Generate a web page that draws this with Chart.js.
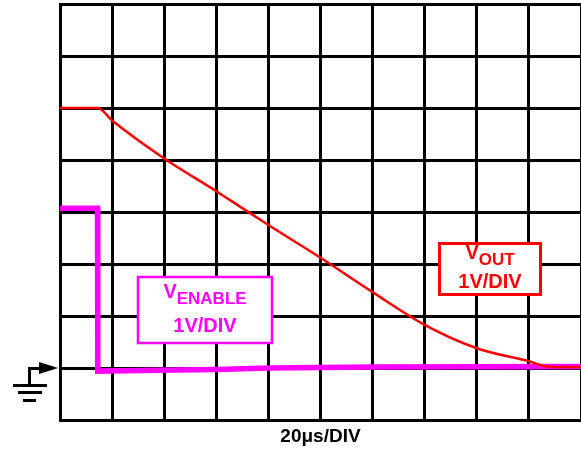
<!DOCTYPE html>
<html>
<head>
<meta charset="utf-8">
<script src="https://cdn.jsdelivr.net/npm/chart.js@4"></script>
<style>
  html, body { margin: 0; padding: 0; background: #fff; }
  #grafico { display: block; }
</style>
</head>
<body>
<canvas id="grafico" width="581" height="452"></canvas>
<script>
// tiempo en us (20us por division), tension en V (1V por division)
var tiempoVout = [0, 14.5, 20, 40, 60, 80, 100, 120, 140, 160, 180, 188, 200];
var vout       = [5.0, 5.0, 4.76, 4.03, 3.40, 2.75, 2.12, 1.46, 0.83, 0.38, 0.13, 0.02, 0.02];

var tiempoEnable = [0, 14.4, 14.5, 30, 60, 80, 120, 200];
var venable      = [3.07, 3.07, -0.06, -0.05, -0.03, 0.0, 0.02, 0.03];

var etiquetaX = '20\u03bcs/DIV';

/**
 * Arma los puntos {x, y} para una serie
 */
var armarPuntos = function(xs, ys){
    const puntos = [];
    xs.forEach((x, i) => {
        puntos.push({ x: x, y: ys[i] });
    });
    return puntos;
}

/**
 * Dibuja una caja con el nombre de la señal (V + subindice) y la escala
 */
var dibujarCaja = function(ctx, caja){
    ctx.save();
    ctx.fillStyle = '#fff';
    ctx.fillRect(caja.x, caja.y, caja.w, caja.h);
    ctx.strokeStyle = caja.color;
    ctx.lineWidth = caja.borde;
    ctx.strokeRect(caja.x, caja.y, caja.w, caja.h);

    ctx.fillStyle = caja.color;
    ctx.textBaseline = 'alphabetic';
    const fV = 'bold 20px "Liberation Sans", Arial, sans-serif';
    const fSub = 'bold 17px "Liberation Sans", Arial, sans-serif';
    ctx.font = fV;
    const anchoV = ctx.measureText('V').width;
    ctx.font = fSub;
    const anchoSub = ctx.measureText(caja.sub).width;
    const cx = caja.x + caja.w / 2;
    let x0 = cx - (anchoV + anchoSub) / 2;
    ctx.font = fV;
    ctx.textAlign = 'left';
    ctx.fillText('V', x0, caja.y1);
    ctx.font = fSub;
    ctx.fillText(caja.sub, x0 + anchoV, caja.y1 + 6);

    ctx.font = fV;
    ctx.textAlign = 'center';
    ctx.fillText('1V/DIV', cx, caja.y2);
    ctx.restore();
}

const anotaciones = {
    id: 'anotaciones',
    afterDatasetsDraw(chart){
        const ctx = chart.ctx;
        dibujarCaja(ctx, { x: 138, y: 277, w: 134, h: 66, color: '#ff00ff', borde: 2.5,
                           sub: 'ENABLE', y1: 298, y2: 332 });
        dibujarCaja(ctx, { x: 439.5, y: 243.5, w: 101, h: 51, color: '#ff0000', borde: 3,
                           sub: 'OUT', y1: 259, y2: 288 });
    },
    afterDraw(chart){
        // simbolo de tierra junto al nivel 0
        const ctx = chart.ctx;
        const y0 = Math.round(chart.scales.y.getPixelForValue(0));
        ctx.save();
        ctx.fillStyle = '#000';
        ctx.beginPath();
        ctx.moveTo(58, y0);
        ctx.lineTo(39, y0 - 6);
        ctx.lineTo(39, y0 + 6);
        ctx.closePath();
        ctx.fill();
        ctx.fillRect(28, y0 - 1, 12, 3);
        ctx.fillRect(28, y0 - 1, 3, 19);
        ctx.fillRect(13, y0 + 16, 34, 3);
        ctx.fillRect(18, y0 + 23, 24, 3);
        ctx.fillRect(23, y0 + 31, 13, 3);
        ctx.restore();
    }
};

const ctx = document.getElementById('grafico');

new Chart(ctx, {
    type: 'line',
    data: {
        datasets: [{
            label: 'VOUT',
            data: armarPuntos(tiempoVout, vout),
            borderColor: '#ff0000',
            borderWidth: 2.5,
            pointRadius: 0,
            cubicInterpolationMode: 'monotone',
            order: 0
        }, {
            label: 'VENABLE',
            data: armarPuntos(tiempoEnable, venable),
            borderColor: '#ff00ff',
            borderWidth: 5.5,
            pointRadius: 0,
            tension: 0,
            order: 1
        }]
    },
    options: {
        responsive: false,
        animation: false,
        devicePixelRatio: 1,
        layout: { padding: { left: 0, top: 4, right: 0, bottom: 0 } },
        plugins: { legend: { display: false }, tooltip: { enabled: false } },
        scales: {
            x: {
                type: 'linear',
                min: 0, max: 200,
                ticks: { stepSize: 20, display: false },
                grid: { color: '#000', lineWidth: 3, drawTicks: false },
                border: { display: true, color: '#000', width: 3 },
                title: {
                    display: true,
                    text: etiquetaX,
                    color: '#000',
                    font: { family: '"Liberation Sans", Arial, sans-serif', size: 19, weight: 'bold' },
                    padding: { top: 0, bottom: 4 }
                },
                afterFit: function(s){ s.height = 32; }
            },
            y: {
                min: -1, max: 7,
                ticks: { stepSize: 1, display: false },
                grid: { color: '#000', lineWidth: 3, drawTicks: false },
                border: { display: true, color: '#000', width: 3 },
                afterFit: function(s){ s.width = 60; }
            }
        }
    },
    plugins: [anotaciones]
});
</script>
</body>
</html>
